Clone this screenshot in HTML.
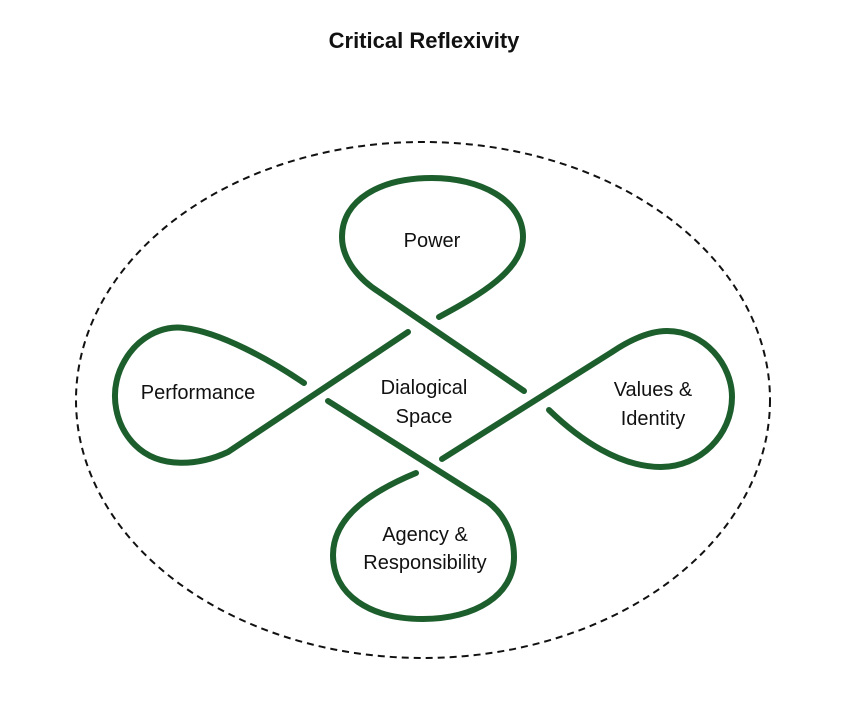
<!DOCTYPE html>
<html><head><meta charset="utf-8"><style>
html,body{margin:0;padding:0;background:#fff;}
svg{display:block;}
text{font-family:"Liberation Sans",sans-serif;fill:#111;text-anchor:middle;}
</style></head><body>
<svg width="850" height="716" viewBox="0 0 850 716">
<text x="424" y="48" font-size="22" font-weight="bold">Critical Reflexivity</text>
<ellipse cx="423" cy="400" rx="347" ry="258" fill="none" stroke="#111" stroke-width="2" stroke-dasharray="7,5"/>
<g fill="none" stroke="#1d5e2d" stroke-width="6" stroke-linecap="round">
<path d="M439,317 C480,295 523,270 523,237 C523,200 480,178 432,178 C380,178 342,200 342,237 C342,260 360,280 379,292 L524,391"/>
<path d="M408,332 L228,452 C200,465 160,470 135,445 C115,425 110,395 120,370 C135,335 165,325 184,328 C220,332 270,360 304,383"/>
<path d="M442,459 L612,352 C630,340 650,331 667,331 C705,331 732,365 732,397 C732,435 700,467 661,467 C620,467 580,440 549,410"/>
<path d="M328,401 L488,502 C505,515 514,535 514,557 C514,595 475,619 423,619 C370,619 333,595 333,555 C333,515 375,490 416,473"/>
</g>
<g font-size="20">
<text x="432" y="247">Power</text>
<text x="424" y="394">Dialogical</text>
<text x="424" y="423">Space</text>
<text x="198" y="399">Performance</text>
<text x="653" y="396">Values &amp;</text>
<text x="653" y="425">Identity</text>
<text x="425" y="541">Agency &amp;</text>
<text x="425" y="569">Responsibility</text>
</g>
</svg>
</body></html>
